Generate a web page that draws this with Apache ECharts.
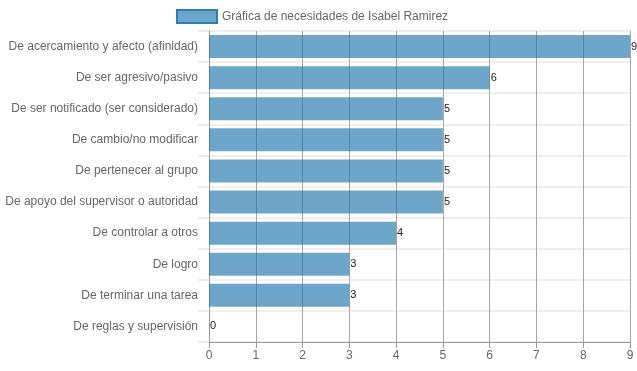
<!DOCTYPE html>
<html>
<head>
<meta charset="utf-8">
<script src="https://cdn.jsdelivr.net/npm/echarts@6/dist/echarts.min.js"></script>
<style>html,body{margin:0;padding:0;background:#fff;}#c{width:637px;height:371px;}</style>
</head>
<body>
<div id="c"></div>
<script>
var categories = [
  "De acercamiento y afecto (afinidad)",
  "De ser agresivo/pasivo",
  "De ser notificado (ser considerado)",
  "De cambio/no modificar",
  "De pertenecer al grupo",
  "De apoyo del supervisor o autoridad",
  "De controlar a otros",
  "De logro",
  "De terminar una tarea",
  "De reglas y supervisión"
];
var values = [9, 6, 5, 5, 5, 5, 4, 3, 3, 0];
var seriesName = "Gráfica de necesidades de Isabel Ramirez";
var xTicks = [0, 1, 2, 3, 4, 5, 6, 7, 8, 9];

var chart = echarts.init(document.getElementById('c'), null, {renderer: 'canvas'});
var font = 'Helvetica Neue, Helvetica, Arial, Liberation Sans, sans-serif';
chart.setOption({
  animation: false,
  textStyle: {fontFamily: font},
  legend: {
    top: 9,
    left: 176,
    padding: 0,
    itemWidth: 40,
    itemHeight: 13,
    itemGap: 6,
    textStyle: {color: '#666', fontSize: 12, fontFamily: font},
    data: [{name: seriesName, icon: 'rect', itemStyle: {color: 'rgba(31,119,170,0.65)', borderColor: '#2c7db0', borderWidth: 2}}]
  },
  grid: {left: 209, right: 7, top: 31, bottom: 29, containLabel: false},
  xAxis: {
    type: 'value',
    min: xTicks[0],
    max: xTicks[xTicks.length - 1],
    interval: 1,
    axisLine: {show: true, lineStyle: {color: '#999', width: 1}},
    axisTick: {show: true, length: 6, lineStyle: {color: '#999'}},
    axisLabel: {color: '#666', fontSize: 12, margin: 8, fontFamily: font},
    splitLine: {show: true, lineStyle: {color: '#a6a6a6', width: 1}}
  },
  yAxis: {
    type: 'category',
    inverse: true,
    data: categories,
    axisLine: {show: true, lineStyle: {color: '#999', width: 1}},
    axisTick: {show: true, length: 11, lineStyle: {color: '#ececec', width: 2}},
    axisLabel: {color: '#666', fontSize: 12, margin: 11, fontFamily: font},
    splitLine: {show: true, lineStyle: {color: '#efefef', width: 2}}
  },
  series: [{
    name: seriesName,
    type: 'bar',
    data: values,
    barCategoryGap: '26%',
    itemStyle: {color: 'rgba(31,119,170,0.65)'},
    label: {show: true, position: 'right', distance: 1, color: '#222', fontSize: 11, fontFamily: font}
  }]
});
</script>
</body>
</html>
